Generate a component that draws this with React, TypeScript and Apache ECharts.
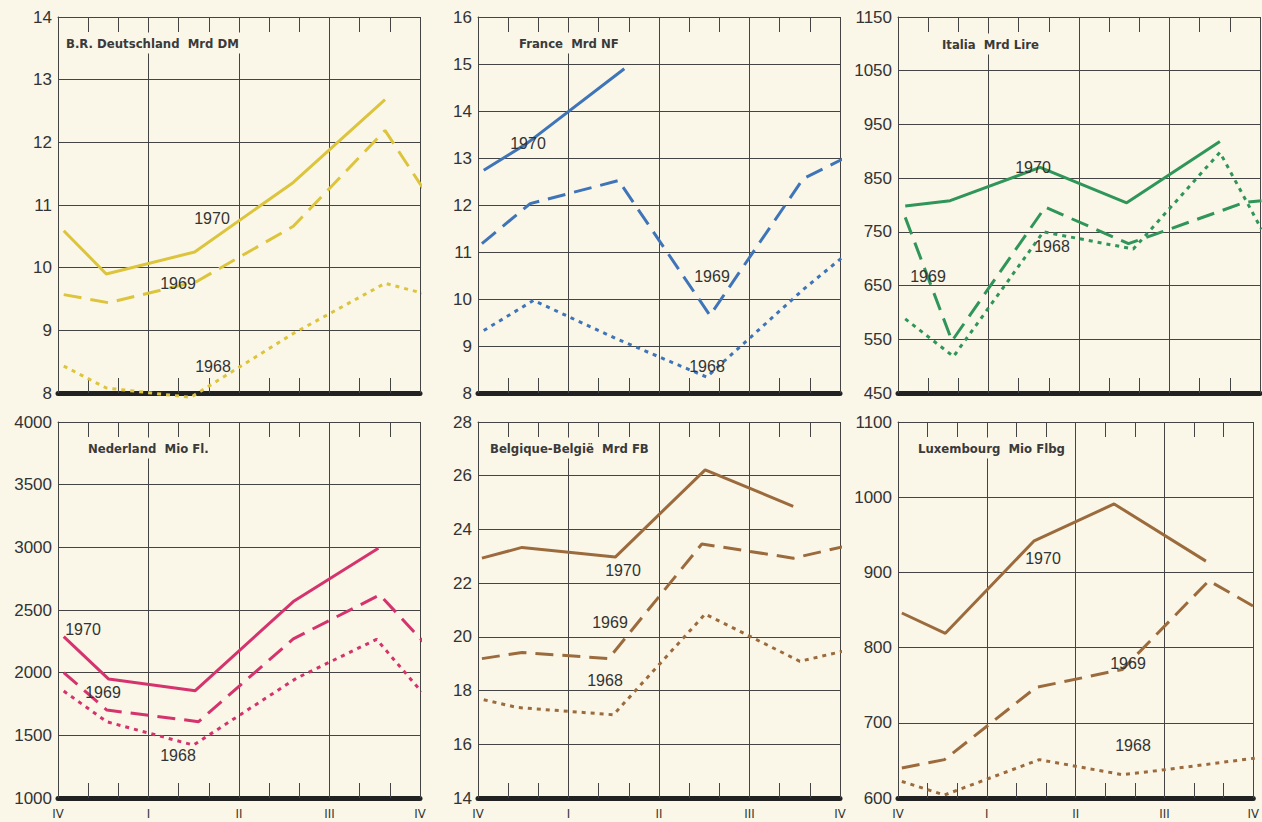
import React, { useEffect, useRef } from "react";
import * as echarts from "echarts";

// ---- data (x = months from start of IV quarter, 0..12) ----
const quarterLabels = ["IV", "I", "II", "III", "IV"];

const deX70 = [0.19, 1.6, 4.53, 7.8, 10.84];
const de70 = [10.59, 9.9, 10.25, 11.36, 12.68];
const deX69 = [0.19, 1.68, 4.6, 7.8, 10.84, 12.27];
const de69 = [9.57, 9.44, 9.78, 10.66, 12.19, 11.14];
const deX68 = [0.19, 1.6, 4.4, 7.8, 10.84, 12.27];
const de68 = [8.43, 8.08, 7.93, 8.95, 9.75, 9.57];

const frX70 = [0.19, 1.6, 4.85];
const fr70 = [12.74, 13.3, 14.9];
const frX69 = [0.13, 1.73, 4.66, 7.69, 10.78, 12.16];
const fr69 = [11.18, 12.03, 12.52, 9.65, 12.56, 13.0];
const frX68 = [0.19, 1.84, 4.6, 7.58, 10.78, 12.16];
const fr68 = [9.33, 9.97, 9.15, 8.34, 10.2, 10.93];

const itX70 = [0.24, 1.73, 4.71, 7.58, 10.67];
const it70 = [798, 808, 870, 804, 918];
const itX69 = [0.24, 1.79, 4.88, 7.64, 11.5, 12.05];
const it69 = [777, 547, 796, 728, 805, 808];
const itX68 = [0.24, 1.84, 4.82, 7.8, 10.67, 12.05];
const it68 = [588, 518, 750, 718, 898, 755];

const nlX70 = [0.19, 1.68, 4.55, 7.8, 10.62];
const nl70 = [2287, 1949, 1856, 2567, 2993];
const nlX69 = [0.19, 1.62, 4.66, 7.8, 10.67, 12.1];
const nl69 = [2000, 1702, 1609, 2270, 2621, 2248];
const nlX68 = [0.19, 1.62, 4.49, 7.9, 10.56, 12.05];
const nl68 = [1853, 1608, 1422, 1955, 2266, 1848];

const beX70 = [0.13, 1.46, 4.55, 7.53, 10.45];
const be70 = [22.93, 23.33, 22.97, 26.22, 24.86];
const beX69 = [0.13, 1.46, 4.33, 7.42, 10.45, 12.16];
const be69 = [19.19, 19.42, 19.19, 23.46, 22.93, 23.37];
const beX68 = [0.19, 1.3, 4.49, 7.53, 10.67, 12.16];
const be68 = [17.66, 17.37, 17.1, 20.85, 19.09, 19.48];

const luX70 = [0.13, 1.6, 4.6, 7.3, 10.4];
const lu70 = [846, 819, 942, 991, 915];
const luX69 = [0.13, 1.57, 4.66, 7.58, 10.5, 12.05];
const lu69 = [640, 651, 747, 771, 889, 854];
const luX68 = [0.13, 1.57, 4.77, 7.58, 9.1, 12.05];
const lu68 = [622, 604, 651, 631, 638, 653];

const panels = [
  { title: "B.R. Deutschland  Mrd DM", min: 8, max: 14, step: 1, color: "#dcc43c",
    s70: [deX70, de70], s69: [deX69, de69], s68: [deX68, de68] },
  { title: "France  Mrd NF", min: 8, max: 16, step: 1, color: "#3f74b8",
    s70: [frX70, fr70], s69: [frX69, fr69], s68: [frX68, fr68] },
  { title: "Italia  Mrd Lire", min: 450, max: 1150, step: 50, labelEvery: 2, color: "#2f9559",
    s70: [itX70, it70], s69: [itX69, it69], s68: [itX68, it68] },
  { title: "Nederland  Mio Fl.", min: 1000, max: 4000, step: 500, color: "#d5336d",
    s70: [nlX70, nl70], s69: [nlX69, nl69], s68: [nlX68, nl68] },
  { title: "Belgique-België  Mrd FB", min: 14, max: 28, step: 2, color: "#9c6b3d",
    s70: [beX70, be70], s69: [beX69, be69], s68: [beX68, be68] },
  { title: "Luxembourg  Mio Flbg", min: 600, max: 1100, step: 100, color: "#9c6b3d",
    s70: [luX70, lu70], s69: [luX69, lu69], s68: [luX68, lu68] },
];

// year label positions (annotations, pixels)
const yearLabels = [
  [[212, 218], [178, 283], [213, 366]],
  [[528, 143], [712, 276], [707, 366]],
  [[1033, 167], [928, 276], [1052, 246]],
  [[83, 629], [103, 692], [178, 755]],
  [[623, 570], [610, 622], [605, 680]],
  [[1043, 558], [1128, 663], [1133, 745]],
];
const titlePos = [[64, 43], [517, 43], [940, 44], [86, 448], [488, 448], [916, 448]];

const GRID_LEFTS = [58, 478, 898];
const GRID_TOPS = [17, 422];
const GRID_W = 362;
const GRID_H = 376;
const INK = "#444";
const BG = "#faf7e8";

export default function App() {
  const ref = useRef<HTMLDivElement>(null);
  useEffect(() => {
    if (!ref.current) return;
    const chart = echarts.init(ref.current, undefined, { renderer: "svg" });
    const grid: any[] = [];
    const xAxis: any[] = [];
    const yAxis: any[] = [];
    const series: any[] = [];
    const graphic: any[] = [];
    panels.forEach((p, i) => {
      const col = i % 3;
      const row = Math.floor(i / 3);
      grid.push({ left: GRID_LEFTS[col], top: GRID_TOPS[row], width: GRID_W, height: GRID_H });
      // bottom x axis
      xAxis.push({
        type: "value", gridIndex: i, min: 0, max: 12, interval: 3, position: "bottom",
        axisLine: { show: true, onZero: false, lineStyle: { color: "#222", width: 5 } },
        axisTick: { show: true, inside: true, length: 15, lineStyle: { color: INK, width: 1 } },
        minorTick: { show: true, splitNumber: 3, length: 15, lineStyle: { color: INK, width: 1 } },
        splitLine: { show: true, lineStyle: { color: INK, width: 1 } },
        axisLabel: {
          show: row === 1, margin: 9, color: "#333", fontSize: 13,
          fontFamily: "DejaVu Sans Condensed",
          formatter: (v: number) => quarterLabels[Math.round(v / 3)] ?? "",
        },
      });
      // top x axis
      xAxis.push({
        type: "value", gridIndex: i, min: 0, max: 12, interval: 3, position: "top",
        axisLine: { show: true, onZero: false, lineStyle: { color: INK, width: 1 } },
        axisTick: { show: true, inside: true, length: 15, lineStyle: { color: INK, width: 1 } },
        minorTick: { show: true, splitNumber: 3, length: 15, lineStyle: { color: INK, width: 1 } },
        splitLine: { show: false },
        axisLabel: { show: false },
      });
      const every = (p as any).labelEvery || 1;
      yAxis.push({
        type: "value", gridIndex: i, min: p.min, max: p.max, interval: p.step,
        axisLine: { show: true, lineStyle: { color: INK, width: 1 } },
        axisTick: { show: false },
        splitLine: {
          show: true,
          lineStyle: { color: every === 2 ? [INK, "rgba(0,0,0,0)"] : INK, width: 1 },
        },
        axisLabel: {
          color: "#333", fontSize: 17, margin: 6, fontFamily: "Liberation Sans",
          formatter: (v: number) =>
            Math.round((v - p.min) / p.step) % every === 0 ? String(v) : "",
        },
      });
      const mk = (xs: number[], ys: number[], type: any, name: string) => ({
        type: "line", name, xAxisIndex: i * 2, yAxisIndex: i,
        data: xs.map((x, k) => [x, ys[k]]),
        symbol: "none", clip: false, z: 5,
        lineStyle: { color: p.color, width: 3, type, cap: "butt" },
      });
      series.push(mk(p.s70[0], p.s70[1], "solid", "1970"));
      series.push(mk(p.s69[0], p.s69[1], [18, 9], "1969"));
      series.push(mk(p.s68[0], p.s68[1], [4, 5], "1968"));

      graphic.push({
        type: "text", x: titlePos[i][0], y: titlePos[i][1], z: 100,
        style: {
          text: p.title, fill: "#3a3a3a", font: "bold 13px 'DejaVu Sans Condensed'",
          verticalAlign: "middle", align: "left", backgroundColor: BG, padding: [4, 2],
        },
      });
      ["1970", "1969", "1968"].forEach((yr, k) => {
        graphic.push({
          type: "text", x: yearLabels[i][k][0], y: yearLabels[i][k][1], z: 100,
          style: {
            text: yr, fill: "#333", font: "16px 'Liberation Sans'",
            align: "center", verticalAlign: "middle",
          },
        });
      });
    });
    chart.setOption({
      animation: false,
      backgroundColor: BG,
      grid, xAxis, yAxis, series, graphic,
    });
    return () => chart.dispose();
  }, []);
  return (
    <div style={{ position: "absolute", left: 0, top: 0, width: 1262, height: 822, background: BG }}>
      <div ref={ref} style={{ width: 1262, height: 822 }} />
    </div>
  );
}
